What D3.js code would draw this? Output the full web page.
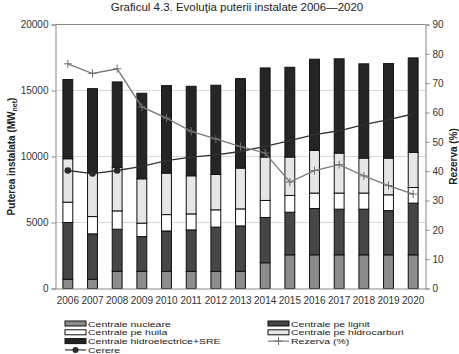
<!DOCTYPE html>
<html>
<head>
<meta charset="utf-8">
<script src="https://cdn.jsdelivr.net/npm/d3@7"></script>
<style>
  body { margin: 0; background: #fff; }
  text { font-family: "Liberation Sans", Arial, sans-serif; }
</style>
</head>
<body>
<div id="chart"></div>
<script>
// values (MW net / %)
var years = ['2006','2007','2008','2009','2010','2011','2012','2013','2014','2015','2016','2017','2018','2019','2020'];
var nucleare = [700, 700, 1300, 1300, 1300, 1300, 1300, 1300, 1950, 2550, 2550, 2550, 2550, 2550, 2550];
var lignit = [4300, 3440, 3190, 2630, 3060, 3140, 3350, 3440, 3430, 3230, 3510, 3460, 3460, 3350, 3920];
var huila = [1540, 1310, 1390, 1020, 1240, 1210, 1310, 1290, 1290, 1270, 1170, 1220, 1220, 1200, 1180];
var hidrocarburi = [3290, 3290, 3290, 3360, 3140, 2890, 2680, 3090, 3290, 2910, 3230, 3030, 2650, 2780, 2660];
var hidroSRE = [6000, 6400, 6480, 6480, 6630, 6780, 6760, 6780, 6750, 6800, 6910, 7140, 7140, 7160, 7160];
var cerere = [8940, 8710, 8940, 9250, 9680, 9960, 10130, 10380, 10760, 11200, 11650, 11950, 12410, 12790, 13220];
var rezerva = [76.6, 73.3, 74.9, 61.9, 58.1, 53.6, 51.0, 48.4, 46.2, 36.3, 40.2, 42.2, 38.4, 35.1, 32.2];
var leftTicks = [0, 5000, 10000, 15000, 20000];
var rightTicks = [0, 10, 20, 30, 40, 50, 60, 70, 80, 90];

var seriesNames = ['Centrale nucleare', 'Centrale pe lignit', 'Centrale pe huila', 'Centrale pe hidrocarburi', 'Centrale hidroelectrice+SRE'];
var seriesColors = ['#8c8c8c', '#464646', '#ffffff', '#e6e6e6', '#252525'];

function drawChart() {
	var W = 459, H = 354;
	var m = {left: 55.5, right: 33.5, top: 24.5, bottom: 65.5};
	var iw = W - m.left - m.right, ih = H - m.top - m.bottom;

	var svg = d3.select('#chart').append('svg')
		.attr('width', W)
		.attr('height', H);

	svg.append('text')
		.attr('x', 237).attr('y', 11)
		.attr('text-anchor', 'middle')
		.attr('font-size', 11.5)
		.attr('fill', '#222')
		.text('Graficul 4.3. Evoluţia puterii instalate 2006\u20142020');

	var g = svg.append('g').attr('transform', 'translate(' + m.left + ',' + m.top + ')');

	var x = d3.scaleBand().domain(years).range([0, iw]).paddingInner(0.6).paddingOuter(0.3);
	var y = d3.scaleLinear().domain([0, 20000]).range([ih, 0]);
	var y2 = d3.scaleLinear().domain([0, 90]).range([ih, 0]);

	// gridlines
	g.append('g')
		.selectAll('line')
		.data(leftTicks.slice(1, -1))
		.enter().append('line')
		.attr('x1', 0).attr('x2', iw)
		.attr('y1', function(d) { return y(d); })
		.attr('y2', function(d) { return y(d); })
		.attr('stroke', '#d9d9d9');

	// stacked bars
	var table = years.map(function(yr, i) {
		return {year: yr, s0: nucleare[i], s1: lignit[i], s2: huila[i], s3: hidrocarburi[i], s4: hidroSRE[i]};
	});
	var stack = d3.stack().keys(['s0', 's1', 's2', 's3', 's4'])(table);

	g.selectAll('.layer')
		.data(stack)
		.enter().append('g')
		.attr('class', 'layer')
		.attr('fill', function(d, i) { return seriesColors[i]; })
		.selectAll('rect')
		.data(function(d) { return d; })
		.enter().append('rect')
		.attr('x', function(d) { return x(d.data.year); })
		.attr('width', x.bandwidth())
		.attr('y', function(d) { return y(d[1]); })
		.attr('height', function(d) { return y(d[0]) - y(d[1]); })
		.attr('stroke', '#111')
		.attr('stroke-width', 1);

	// axes
	var left = g.append('g')
		.call(d3.axisLeft(y).tickValues(leftTicks).tickFormat(d3.format('d')).tickSize(4).tickPadding(3));
	var right = g.append('g')
		.attr('transform', 'translate(' + iw + ',0)')
		.call(d3.axisRight(y2).tickValues(rightTicks).tickSize(4).tickPadding(3));
	var bottom = g.append('g')
		.attr('transform', 'translate(0,' + ih + ')')
		.call(d3.axisBottom(x).tickSize(0).tickPadding(8));
	[left, right, bottom].forEach(function(a) {
		a.selectAll('path, line').attr('stroke', '#888');
		a.selectAll('text').attr('font-size', 10).attr('fill', '#333')
			.style('font-family', '"Liberation Sans", Arial, sans-serif');
	});
	g.append('line')
		.attr('x1', 0).attr('x2', iw).attr('y1', 0).attr('y2', 0)
		.attr('stroke', '#888');

	var cx = function(d, i) { return x(years[i]) + x.bandwidth() / 2; };

	// Cerere line (left axis)
	g.append('path')
		.datum(cerere)
		.attr('fill', 'none')
		.attr('stroke', '#333')
		.attr('stroke-width', 1.3)
		.attr('d', d3.line().x(cx).y(function(d) { return y(d); }));
	g.selectAll('.dot')
		.data(cerere.slice(0, 3))
		.enter().append('circle')
		.attr('cx', cx)
		.attr('cy', function(d) { return y(d); })
		.attr('r', 3.3)
		.attr('fill', '#2a2a2a');

	// Rezerva line (right axis)
	g.append('path')
		.datum(rezerva)
		.attr('fill', 'none')
		.attr('stroke', '#7a7a7a')
		.attr('stroke-width', 1.3)
		.attr('d', d3.line().x(cx).y(function(d) { return y2(d); }));
	g.selectAll('.plus')
		.data(rezerva)
		.enter().append('path')
		.attr('transform', function(d, i) { return 'translate(' + cx(d, i) + ',' + y2(d) + ')'; })
		.attr('d', 'M-4,0H4M0,-4V4')
		.attr('stroke', '#6f6f6f')
		.attr('stroke-width', 1);

	// axis titles
	var t1 = svg.append('text')
		.attr('transform', 'translate(15,' + (m.top + ih / 2) + ') rotate(-90)')
		.attr('text-anchor', 'middle')
		.attr('font-size', 10)
		.attr('font-weight', 'bold')
		.attr('fill', '#222');
	t1.append('tspan').text('Puterea instalata (MW');
	t1.append('tspan').attr('font-size', 7).attr('dy', 2).text('net');
	t1.append('tspan').attr('dy', -2).text(')');

	svg.append('text')
		.attr('transform', 'translate(457,' + (m.top + ih / 2) + ') rotate(-90)')
		.attr('text-anchor', 'middle')
		.attr('font-size', 10)
		.attr('font-weight', 'bold')
		.attr('fill', '#222')
		.text('Rezerva (%)');

	// legend, rows packed tight like the original
	var legendItems = [
		{name: seriesNames[0], type: 'box', color: seriesColors[0], col: 0, row: 0},
		{name: seriesNames[1], type: 'box', color: seriesColors[1], col: 1, row: 0},
		{name: seriesNames[2], type: 'box', color: seriesColors[2], col: 0, row: 1},
		{name: seriesNames[3], type: 'box', color: seriesColors[3], col: 1, row: 1},
		{name: seriesNames[4], type: 'box', color: seriesColors[4], col: 0, row: 2},
		{name: 'Rezerva (%)', type: 'plus', col: 1, row: 2},
		{name: 'Cerere', type: 'dot', col: 0, row: 3}
	];
	var lg = svg.selectAll('.leg')
		.data(legendItems)
		.enter().append('g')
		.attr('transform', function(d) {
			return 'translate(' + (d.col ? 268 : 65) + ',' + (323.5 + d.row * 8.8) + ')';
		});
	lg.filter(function(d) { return d.type === 'box'; })
		.append('rect')
		.attr('x', 0).attr('y', -2.5).attr('width', 21).attr('height', 5)
		.attr('fill', function(d) { return d.color; })
		.attr('stroke', '#111');
	lg.filter(function(d) { return d.type !== 'box'; })
		.append('line')
		.attr('x1', 0).attr('x2', 21)
		.attr('stroke', function(d) { return d.type === 'dot' ? '#333' : '#7a7a7a'; })
		.attr('stroke-width', 1.2);
	lg.filter(function(d) { return d.type === 'dot'; })
		.append('circle')
		.attr('cx', 10.5).attr('r', 3).attr('fill', '#2a2a2a');
	lg.filter(function(d) { return d.type === 'plus'; })
		.append('path')
		.attr('d', 'M6.5,0H14.5M10.5,-4V4')
		.attr('stroke', '#6f6f6f');
	lg.append('text')
		.attr('transform', 'translate(23,3) scale(1,0.75)')
		.attr('font-size', 10.5)
		.attr('fill', '#222')
		.text(function(d) { return d.name; });
}

drawChart();
</script>
</body>
</html>
